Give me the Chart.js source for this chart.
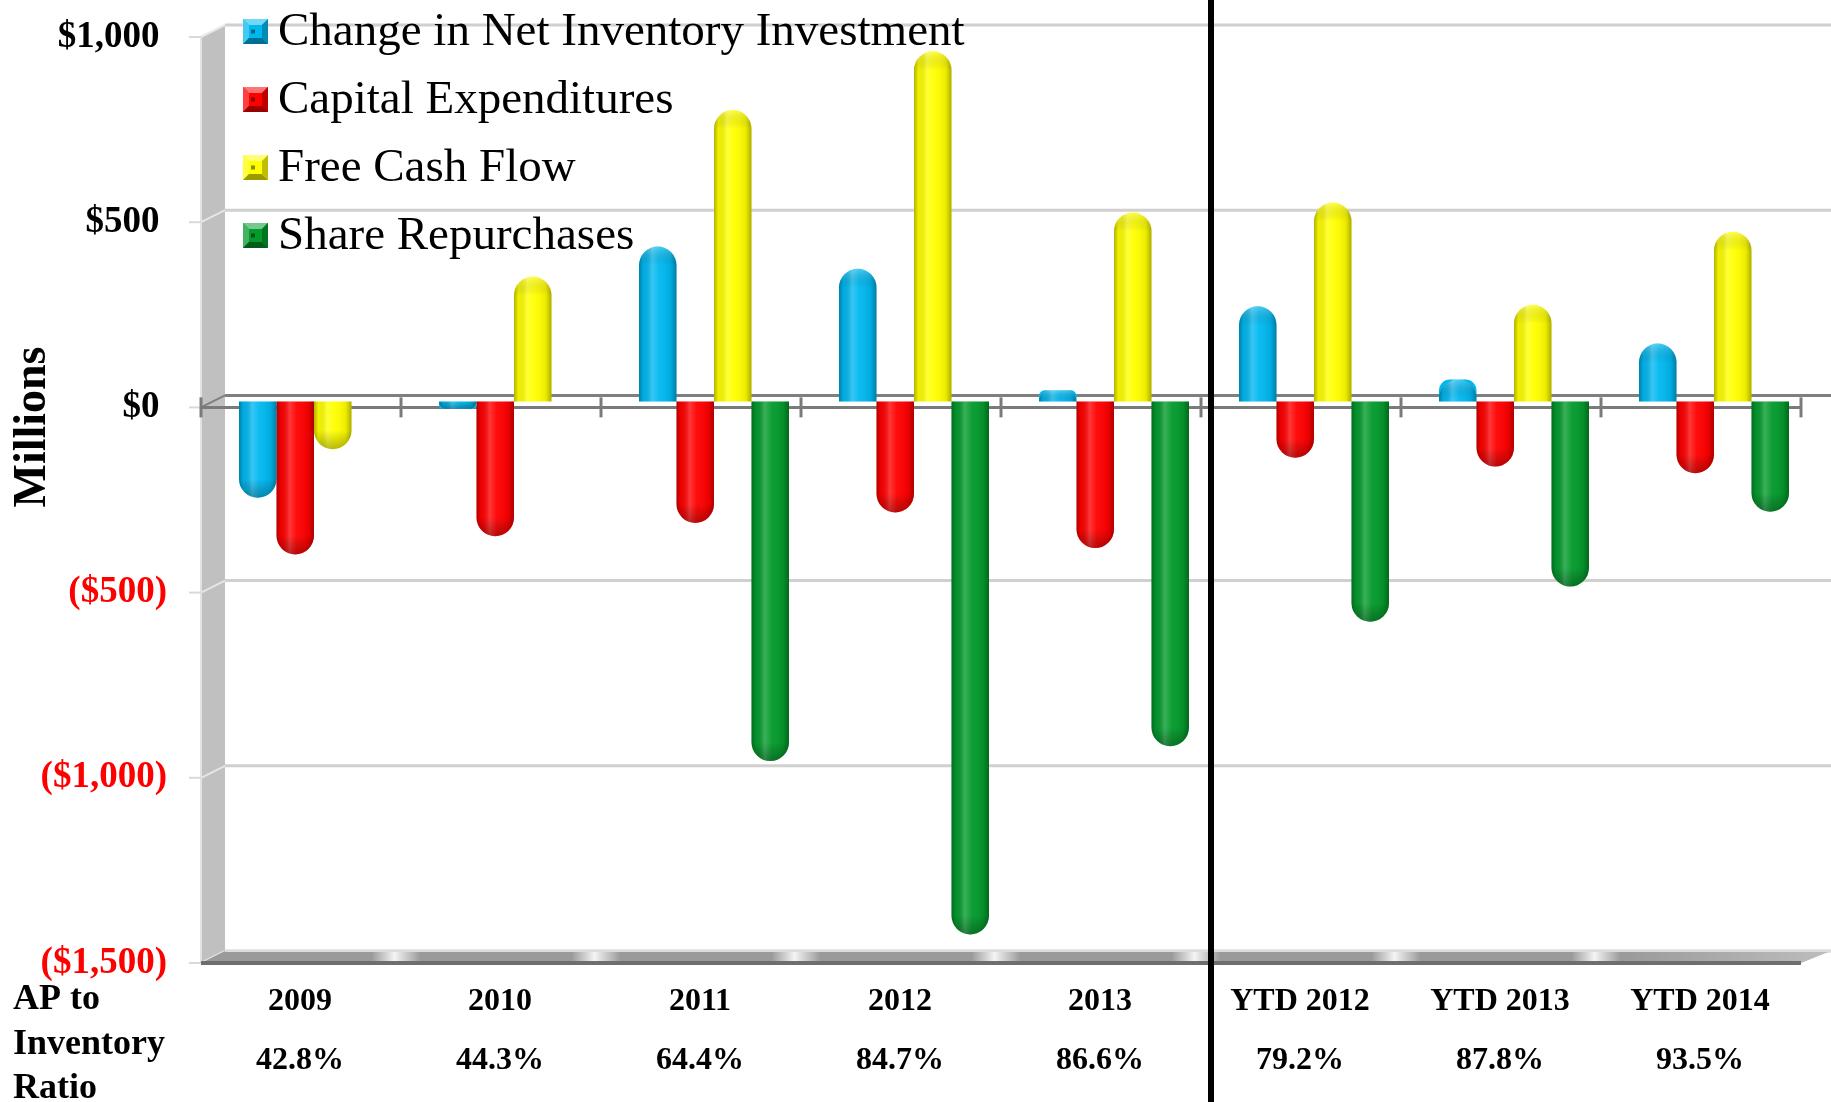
<!DOCTYPE html>
<html>
<head>
<meta charset="utf-8">
<title>Inventory, CapEx, Free Cash Flow and Buybacks</title>
<script src="https://cdn.jsdelivr.net/npm/chart.js@4.4.1/dist/chart.umd.min.js"></script>
<style>
  html, body { margin: 0; padding: 0; background: #fff; }
  #wrap { position: relative; width: 1831px; height: 1102px; }
</style>
</head>
<body>
<div id="wrap"><canvas id="myChart"></canvas></div>
<script>
// $ millions
const categories = ["2009", "2010", "2011", "2012", "2013", "YTD 2012", "YTD 2013", "YTD 2014"];
const apRatio = ["42.8%", "44.3%", "64.4%", "84.7%", "86.6%", "79.2%", "87.8%", "93.5%"];
const inventoryChange = [-260, -20, 418, 358, 30, 257, 59, 156];
const capex = [-413, -364, -328, -300, -396, -152, -176, -194];
const freeCashFlow = [-129, 337, 787, 945, 510, 537, 261, 458];
const shareRepurchases = [0, 0, -971, -1439, -931, -595, -500, -298];
const yTicks = { min: -1500, max: 1000, step: 500 };

const SERIF = '"Liberation Serif", "Times New Roman", serif';
const DY = 6;         // half of the wall depth, vertical
const FRONT_DX = -13; // front edge offset from plot area
const BACK_DX = 11;   // back wall offset from plot area

function fmtMoney(v) {
  const s = "$" + Math.abs(v).toLocaleString("en-US");
  return v < 0 ? "(" + s + ")" : s + "\u2009";
}

function shade(hex, amt) {
  // amt > 0 lightens, < 0 darkens
  const n = parseInt(hex.slice(1), 16);
  let r = (n >> 16) & 255, g = (n >> 8) & 255, b = n & 255;
  const t = amt > 0 ? 255 : 0, p = Math.abs(amt);
  r = Math.round(r + (t - r) * p); g = Math.round(g + (t - g) * p); b = Math.round(b + (t - b) * p);
  return `rgb(${r},${g},${b})`;
}

// walls, floor, gridlines and the front zero axis
const depthFrame = {
  id: "depthFrame",
  beforeDatasetsDraw(chart) {
    const { ctx, chartArea: a, scales: { x, y } } = chart;
    const n = categories.length;
    const catW = (a.right - a.left) / n;
    const frontL = a.left + FRONT_DX, backL = a.left + BACK_DX;
    const frontR = a.right + FRONT_DX, backR = chart.width;
    const yTop = y.getPixelForValue(y.max), yBot = y.getPixelForValue(y.min);
    const y0 = y.getPixelForValue(0);
    ctx.save();

    // left side wall
    ctx.fillStyle = "#c0c0c0";
    ctx.beginPath();
    ctx.moveTo(frontL, yTop + DY);
    ctx.lineTo(backL, yTop - DY);
    ctx.lineTo(backL, yBot - DY);
    ctx.lineTo(frontL, yBot + DY);
    ctx.closePath();
    ctx.fill();
    ctx.strokeStyle = "#e2e2e2";
    ctx.lineWidth = 2;
    ctx.beginPath();
    ctx.moveTo(frontL, yTop + DY);
    ctx.lineTo(frontL, yBot + DY);
    ctx.stroke();

    // back wall gridlines + wall connectors + small outer ticks
    for (let v = yTicks.max; v >= yTicks.min; v -= yTicks.step) {
      const py = y.getPixelForValue(v);
      const isZero = v === 0;
      ctx.strokeStyle = isZero ? "#7f7f7f" : "#d0d0d0";
      ctx.lineWidth = 3;
      ctx.beginPath();
      ctx.moveTo(backL, py - DY);
      ctx.lineTo(backR, py - DY);
      ctx.stroke();
      ctx.strokeStyle = isZero ? "#7f7f7f" : "#e6e6e6";
      ctx.lineWidth = 2;
      ctx.beginPath();
      ctx.moveTo(frontL, py + DY);
      ctx.lineTo(backL, py - DY);
      ctx.stroke();
      ctx.strokeStyle = "#d9d9d9";
      ctx.beginPath();
      ctx.moveTo(frontL - 12, py + DY);
      ctx.lineTo(frontL, py + DY);
      ctx.stroke();
    }

    // floor
    const fg = ctx.createLinearGradient(frontL, 0, backR, 0);
    fg.addColorStop(0, "#9a9a9a");
    for (let i = 1; i < n; i++) {
      const p = (i * catW) / (backR - frontL);
      fg.addColorStop(Math.max(0, p - 0.018), "#9a9a9a");
      fg.addColorStop(p - 0.004, "#f4f4f4");
      fg.addColorStop(Math.min(1, p + 0.012), "#9a9a9a");
    }
    fg.addColorStop(1, "#bdbdbd");
    ctx.fillStyle = fg;
    ctx.beginPath();
    ctx.moveTo(frontL, yBot + DY);
    ctx.lineTo(backL, yBot - DY);
    ctx.lineTo(backR, yBot - DY);
    ctx.lineTo(frontR, yBot + DY);
    ctx.closePath();
    ctx.fill();
    ctx.strokeStyle = "#dcdcdc";
    ctx.lineWidth = 2;
    ctx.beginPath();
    ctx.moveTo(backL, yBot - DY);
    ctx.lineTo(backR, yBot - DY);
    ctx.stroke();
    ctx.strokeStyle = "#6e6e6e";
    ctx.lineWidth = 4;
    ctx.beginPath();
    ctx.moveTo(frontL, yBot + DY);
    ctx.lineTo(frontR, yBot + DY);
    ctx.stroke();

    // front zero axis with category tick marks
    ctx.strokeStyle = "#7a7a7a";
    ctx.lineWidth = 3;
    ctx.beginPath();
    ctx.moveTo(frontL, y0 + DY);
    ctx.lineTo(frontR, y0 + DY);
    ctx.stroke();
    for (let i = 0; i <= n; i++) {
      const tx = frontL + i * catW;
      ctx.beginPath();
      ctx.moveTo(tx, y0 + DY - 10);
      ctx.lineTo(tx, y0 + DY + 10);
      ctx.stroke();
    }
    ctx.restore();
  },

  // round-cylinder shading over each bar
  afterDatasetsDraw(chart) {
    const { ctx } = chart;
    ctx.save();
    chart.data.datasets.forEach((ds, di) => {
      const meta = chart.getDatasetMeta(di);
      meta.data.forEach((el) => {
        const { x: cx, y: vy, base, width } = el.getProps(["x", "y", "base", "width"], true);
        if (Math.abs(vy - base) < 0.5) return;
        const left = cx - width / 2;
        const top = Math.min(vy, base), bottom = Math.max(vy, base);
        const r = Math.min(width / 2, bottom - top);
        const up = vy < base;
        const g = ctx.createLinearGradient(left, 0, left + width, 0);
        g.addColorStop(0, "rgba(0,0,0,0.30)");
        g.addColorStop(0.12, "rgba(0,0,0,0.06)");
        g.addColorStop(0.35, "rgba(255,255,255,0.22)");
        g.addColorStop(0.55, "rgba(255,255,255,0.04)");
        g.addColorStop(0.85, "rgba(0,0,0,0.08)");
        g.addColorStop(1, "rgba(0,0,0,0.32)");
        ctx.beginPath();
        ctx.roundRect(left, top, width, bottom - top, up ? [r, r, 0, 0] : [0, 0, r, r]);
        ctx.fillStyle = g;
        ctx.fill();
        // tint near the rounded tip
        const tipY = up ? top : bottom;
        const tg = ctx.createLinearGradient(0, tipY, 0, up ? tipY + r : tipY - r);
        tg.addColorStop(0, up ? "rgba(255,255,255,0.25)" : "rgba(0,0,0,0.28)");
        tg.addColorStop(1, "rgba(0,0,0,0)");
        ctx.fillStyle = tg;
        ctx.fill();
      });
    });
    ctx.restore();
  },

  afterDraw(chart) {
    const { ctx, scales: { x } } = chart;
    ctx.save();

    // divider between full years and YTD
    const divX = (x.getPixelForValue(4) + x.getPixelForValue(5)) / 2 - 3;
    ctx.strokeStyle = "#000";
    ctx.lineWidth = 6;
    ctx.beginPath();
    ctx.moveTo(divX, 0);
    ctx.lineTo(divX, chart.height);
    ctx.stroke();

    // axis title
    ctx.fillStyle = "#000";
    ctx.font = "bold 46px " + SERIF;
    ctx.textAlign = "center";
    ctx.textBaseline = "middle";
    ctx.translate(33, 427);
    ctx.rotate(-Math.PI / 2);
    ctx.fillText("Millions", 0, 0);
    ctx.setTransform(1, 0, 0, 1, 0, 0);

    // row header for the ratio line
    ctx.font = "bold 36px " + SERIF;
    ctx.textAlign = "left";
    ctx.textBaseline = "alphabetic";
    ["AP to", "Inventory", "Ratio"].forEach((t, i) => ctx.fillText(t, 13, 1009 + i * 44.5));

    // legend
    ctx.font = "47px " + SERIF;
    chart.data.datasets.forEach((ds, i) => {
      const base = 45 + i * 68;
      drawBevelBox(ctx, 243, base - 26, 25, ds.backgroundColor);
      ctx.fillStyle = "#000";
      ctx.fillText(ds.label, 278, base);
    });
    ctx.restore();
  },
};

function drawBevelBox(ctx, x, y, s, color) {
  const b = 6;
  ctx.fillStyle = color;
  ctx.fillRect(x, y, s, s);
  const face = (pts, fill) => {
    ctx.fillStyle = fill;
    ctx.beginPath();
    ctx.moveTo(pts[0], pts[1]);
    for (let i = 2; i < pts.length; i += 2) ctx.lineTo(pts[i], pts[i + 1]);
    ctx.closePath();
    ctx.fill();
  };
  face([x, y, x + s, y, x + s - b, y + b, x + b, y + b], shade(color, 0.45));
  face([x, y, x + b, y + b, x + b, y + s - b, x, y + s], shade(color, 0.25));
  face([x, y + s, x + b, y + s - b, x + s - b, y + s - b, x + s, y + s], shade(color, -0.4));
  face([x + s, y, x + s, y + s, x + s - b, y + s - b, x + s - b, y + b], shade(color, -0.25));
  ctx.fillStyle = shade(color, -0.45);
  ctx.fillRect(x + b + 2, y + s / 2 - 2, 4, 4);
}

function initChart() {
  const ctx = document.getElementById("myChart").getContext("2d");
  const barStyle = {
    categoryPercentage: 0.75,
    barPercentage: 1.0,
    borderWidth: 0,
    borderRadius: 19,
    borderSkipped: "start",
  };
  window.chart = new Chart(ctx, {
    type: "bar",
    data: {
      labels: categories.map((c, i) => [c, apRatio[i]]),
      datasets: [
        { label: "Change in Net Inventory Investment", data: inventoryChange, backgroundColor: "#00b8f0", ...barStyle },
        { label: "Capital Expenditures", data: capex, backgroundColor: "#ff0000", ...barStyle },
        { label: "Free Cash Flow", data: freeCashFlow, backgroundColor: "#ffff00", ...barStyle },
        { label: "Share Repurchases", data: shareRepurchases, backgroundColor: "#049a2c", ...barStyle },
      ],
    },
    options: {
      responsive: true,
      maintainAspectRatio: false,
      animation: false,
      devicePixelRatio: 1,
      layout: { padding: { top: 31, right: 17, bottom: 0, left: 0 } },
      plugins: {
        legend: { display: false },
        tooltip: { enabled: false },
      },
      scales: {
        x: {
          grid: { display: false },
          border: { display: false },
          ticks: {
            color: "#000",
            font: { family: SERIF, size: 32, weight: "bold", lineHeight: 1.84 },
            padding: 7,
            labelOffset: -14,
            maxRotation: 0,
            autoSkip: false,
          },
          afterFit: (s) => { s.height = 145; },
        },
        y: {
          min: yTicks.min,
          max: yTicks.max,
          grid: { display: false },
          border: { display: false },
          ticks: {
            stepSize: yTicks.step,
            callback: (v) => fmtMoney(v),
            color: (c) => (c.tick && c.tick.value < 0 ? "#ff0000" : "#000000"),
            font: { family: SERIF, size: 37, weight: "bold" },
            padding: 39,
            labelOffset: 6,
          },
          afterFit: (s) => {
            s.width = 214;
            // labels may overhang the plot edges; keep the plot top fixed
            s.paddingTop = 0;
            s.paddingBottom = 0;
          },
        },
      },
    },
    plugins: [depthFrame],
  });
}

initChart();
</script>
</body>
</html>
